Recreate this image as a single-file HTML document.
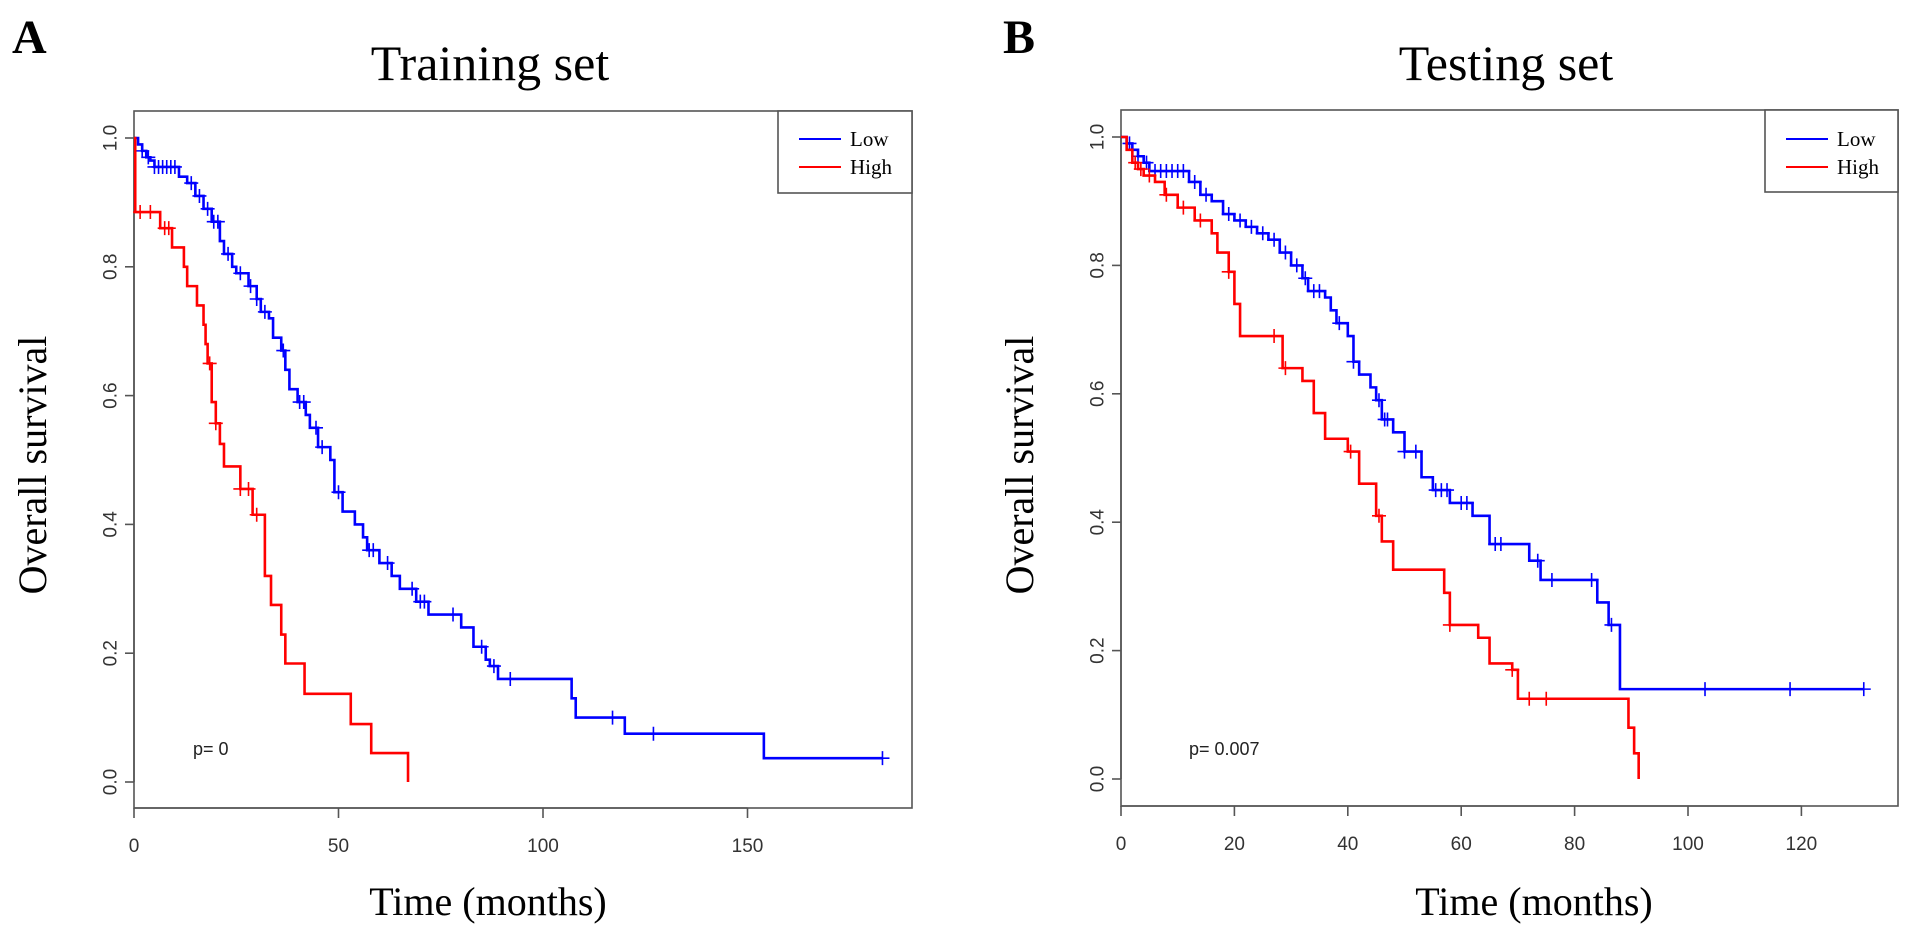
<!DOCTYPE html>
<html><head><meta charset="utf-8"><style>
html,body{margin:0;padding:0;background:#fff;}
svg{display:block;}
.serif{font-family:"Liberation Serif",serif;}
.sans{font-family:"Liberation Sans",sans-serif;}
</style></head><body>
<svg id="fig" width="1913" height="940" viewBox="0 0 1913 940" xmlns="http://www.w3.org/2000/svg">
<rect width="1913" height="940" fill="#fff"/>
<g id="panelA"></g>
<g id="panelB"></g>
</svg>
<script>
// ---- Panel A (Training set) data ----
const aLowTimes = [1,2,3,4,5,11,13,15,17,19,21,22,24,25,28,30,31,33,34,36,37,38,40,42,43,45,48,49,51,54,56,57,60,63,65,69,72,80,83,86,87,89,107,108,111,120,154];
const aLowSurv  = [0.99,0.98,0.97,0.965,0.955,0.94,0.93,0.91,0.89,0.87,0.84,0.82,0.80,0.79,0.77,0.75,0.73,0.72,0.69,0.67,0.64,0.61,0.59,0.57,0.55,0.52,0.50,0.45,0.42,0.40,0.38,0.36,0.34,0.32,0.30,0.28,0.26,0.24,0.21,0.19,0.18,0.16,0.13,0.10,0.10,0.075,0.037];
const aLowEnd = 183;
const aLowCens = [2,3.5,5,6,7,8,9,10,14,16,18,19.5,20.5,23,26,28.5,30,32,36.5,40.5,41.5,44.5,46,50,57.5,58.5,62,68,70,71,78,85,88,92,117,127,183];
const aHighTimes = [0.3,6.4,9.3,12.2,13,15.4,17,17.5,18,19,20,21,22,26,29,32,33.5,36,37,41.7,53,58,67];
const aHighSurv  = [0.885,0.86,0.83,0.80,0.77,0.74,0.71,0.68,0.65,0.59,0.557,0.525,0.49,0.455,0.415,0.32,0.275,0.229,0.184,0.137,0.09,0.045,0.0];
const aHighEnd = 67;
const aHighCens = [1.5,4,7.5,8.5,18.5,20,26,28,30];
const aXTicks = [0,50,100,150];
const aYTicks = [0,0.2,0.4,0.6,0.8,1.0];

// ---- Panel B (Testing set) data ----
const bLowTimes = [1,2,3,4,5,12,14,16,18,20,22,24,26,28,30,32,33,36,37,38,40,41,42,44,45,46,48,50,53,55,58,62,65,72,74,84,86,88];
const bLowSurv  = [0.99,0.98,0.97,0.96,0.947,0.93,0.91,0.90,0.88,0.87,0.86,0.85,0.84,0.82,0.80,0.78,0.76,0.75,0.73,0.71,0.69,0.65,0.63,0.61,0.59,0.56,0.54,0.51,0.47,0.45,0.43,0.41,0.366,0.34,0.31,0.275,0.24,0.14];
const bLowEnd = 131;
const bLowCens = [1.5,3,4.5,6,7,8,9,10,11,13,15,19,21,23,25,27,29,31,32.5,34,35,38.5,41,45.5,46.5,47,50,52,55.5,56.5,57.5,60,61,66,67,73.5,76,83,86.5,103,118,131];
const bHighTimes = [1,2,3,4,6,7.7,10,13,16,17,19,20,21,28.5,32,34,36,40,42,45,46,48,57,58,59,63,65,69,70,89.5,90.5,91.3];
const bHighSurv  = [0.98,0.96,0.95,0.94,0.93,0.91,0.89,0.87,0.85,0.82,0.79,0.74,0.69,0.64,0.62,0.57,0.53,0.51,0.46,0.41,0.37,0.326,0.29,0.24,0.24,0.22,0.18,0.17,0.125,0.08,0.04,0.0];
const bHighEnd = 91.3;
const bHighCens = [2.5,3.5,5,8,11,14,19,27,29,40.5,45.5,58,69,72,75];
const bXTicks = [0,20,40,60,80,100,120];
const bYTicks = [0,0.2,0.4,0.6,0.8,1.0];

const NS = "http://www.w3.org/2000/svg";
function mk(parent, tag, attrs, text){
  const e = document.createElementNS(NS, tag);
  for (const k in attrs) e.setAttribute(k, attrs[k]);
  if (text !== undefined) e.textContent = text;
  parent.appendChild(e);
  return e;
}
function survAt(times, surv, t){
  let s = 1;
  for (let i=0;i<times.length;i++){ if (times[i] <= t) s = surv[i]; }
  return s;
}
function drawPanel(g, cfg){
  const xs = t => cfg.x0 + t*cfg.pxPerMonth;
  const ys = v => cfg.y0 - v*cfg.pxPerUnit;
  let e;
  e = mk(g,'text',{x:cfg.letterX,y:53,'font-size':48,'font-weight':'bold',class:'serif'},cfg.letter);
  
  
  e = mk(g,'text',{x:cfg.titleX,y:80,'font-size':50,'text-anchor':'middle',class:'serif'},cfg.title);
  
  
  e = mk(g,'rect',{x:cfg.boxL,y:cfg.boxT,width:cfg.boxR-cfg.boxL,height:cfg.boxB-cfg.boxT,fill:'none',stroke:'#555','stroke-width':1.6});
  
  
  // y axis
  const ya = mk(g,'g',{});
  
  
  mk(ya,'line',{x1:cfg.boxL,x2:cfg.boxL,y1:ys(0),y2:ys(1),stroke:'#555','stroke-width':1.6});
  cfg.yTicks.forEach(v=>{
    mk(ya,'line',{x1:cfg.boxL-9,x2:cfg.boxL,y1:ys(v),y2:ys(v),stroke:'#555','stroke-width':1.6});
    const t = mk(ya,'text',{x:cfg.boxL-24,y:ys(v),'font-size':19,'text-anchor':'middle',fill:'#333',class:'sans',transform:`rotate(-90 ${cfg.boxL-24} ${ys(v)})`,dy:'0.35em'},v.toFixed(1));
    
    
  });
  // x axis
  const xa = mk(g,'g',{});
  
  
  const lastT = cfg.xTicks[cfg.xTicks.length-1];
  mk(xa,'line',{x1:xs(0),x2:xs(lastT),y1:cfg.boxB,y2:cfg.boxB,stroke:'#555','stroke-width':1.6});
  cfg.xTicks.forEach(v=>{
    mk(xa,'line',{x1:xs(v),x2:xs(v),y1:cfg.boxB,y2:cfg.boxB+10,stroke:'#555','stroke-width':1.6});
    const t = mk(xa,'text',{x:xs(v),y:cfg.boxB+44,'font-size':19,'text-anchor':'middle',fill:'#333',class:'sans'},String(v));
    
    
  });
  e = mk(g,'text',{x:cfg.xLabelX,y:915,'font-size':40,'text-anchor':'middle',class:'serif'},'Time (months)');
  
  
  e = mk(g,'text',{x:cfg.yLabelX,y:465,'font-size':40,'text-anchor':'middle',class:'serif',transform:`rotate(-90 ${cfg.yLabelX} 465)`,dy:'0.35em'},'Overall survival');
  
  
  // series
  cfg.series.forEach(sr=>{
    let d = `M${xs(0)},${ys(1)}`;
    for (let i=0;i<sr.times.length;i++){ d += ` H${xs(sr.times[i])} V${ys(sr.surv[i])}`; }
    d += ` H${xs(sr.end)}`;
    const p = mk(g,'path',{d:d,fill:'none',stroke:sr.color,'stroke-width':2.6});
    
    
    sr.cens.forEach(t=>{
      const cx = xs(t), cy = ys(survAt(sr.times,sr.surv,t));
      const c = mk(g,'path',{d:`M${cx-7},${cy} H${cx+7} M${cx},${cy-7} V${cy+7}`,stroke:sr.color,'stroke-width':1.6,fill:'none'});
      
      
    });
  });
  // legend
  const lg = mk(g,'g',{});
  
  
  mk(lg,'rect',{x:cfg.legX,y:cfg.boxT,width:cfg.boxR-cfg.legX,height:82,fill:'#fff',stroke:'#555','stroke-width':1.6});
  [['Low','#0000ff',139],['High','#ff0000',167]].forEach(([lab,col,yy])=>{
    const en = mk(lg,'g',{});
    
    
    mk(en,'line',{x1:cfg.legX+21,x2:cfg.legX+63,y1:yy,y2:yy,stroke:col,'stroke-width':2});
    mk(en,'text',{x:cfg.legX+72,y:yy+7,'font-size':21,class:'serif'},lab);
  });
  e = mk(g,'text',{x:cfg.pX,y:755,'font-size':18,class:'sans',fill:'#222'},cfg.pText);
  
  
}
drawPanel(document.getElementById('panelA'),{
  letter:'A',letterX:12,title:'Training set',titleX:490,
  boxL:134,boxR:912,boxT:111,boxB:808,x0:134,pxPerMonth:4.09,y0:782,pxPerUnit:644,
  xTicks:aXTicks,yTicks:aYTicks,xLabelX:488,yLabelX:32,legX:778,pX:193,pText:'p= 0',
  series:[
    {name:'low',color:'#0000ff',times:aLowTimes,surv:aLowSurv,end:aLowEnd,cens:aLowCens},
    {name:'high',color:'#ff0000',times:aHighTimes,surv:aHighSurv,end:aHighEnd,cens:aHighCens}
  ]
});
drawPanel(document.getElementById('panelB'),{
  letter:'B',letterX:1003,title:'Testing set',titleX:1506,
  boxL:1121,boxR:1898,boxT:110,boxB:806,x0:1121,pxPerMonth:5.67,y0:779,pxPerUnit:642,
  xTicks:bXTicks,yTicks:bYTicks,xLabelX:1534,yLabelX:1019,legX:1765,pX:1189,pText:'p= 0.007',
  series:[
    {name:'low',color:'#0000ff',times:bLowTimes,surv:bLowSurv,end:bLowEnd,cens:bLowCens},
    {name:'high',color:'#ff0000',times:bHighTimes,surv:bHighSurv,end:bHighEnd,cens:bHighCens}
  ]
});
</script>
</body></html>
